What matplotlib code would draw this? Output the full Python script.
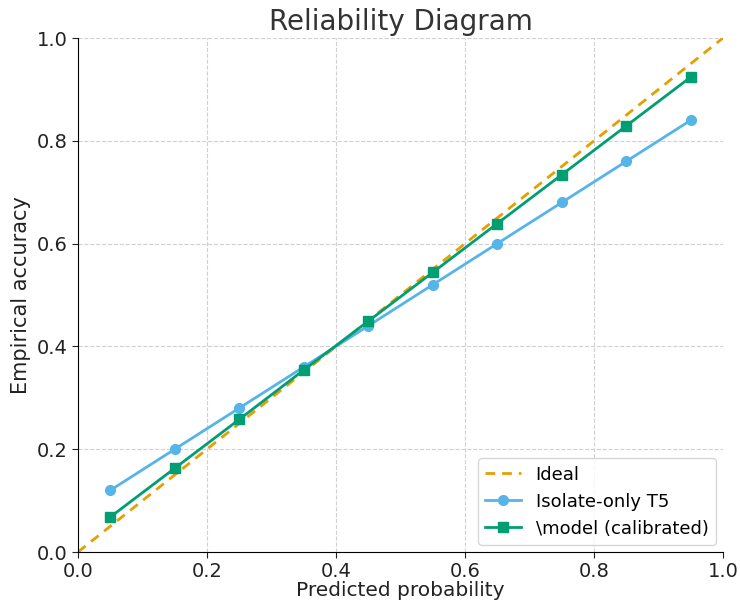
import matplotlib
matplotlib.use("Agg")
import matplotlib.pyplot as plt
import numpy as np

bins = [0.05, 0.15, 0.25, 0.35, 0.45, 0.55, 0.65, 0.75, 0.85, 0.95]
isolate_t5 = [0.12, 0.20, 0.28, 0.36, 0.44, 0.52, 0.60, 0.68, 0.76, 0.84]
model_cal = [0.068, 0.163, 0.258, 0.354, 0.449, 0.544, 0.639, 0.734, 0.829, 0.924]
ideal = [0.0, 1.0]

fig = plt.figure(figsize=(7.4, 6.05), dpi=100)
ax = fig.add_axes([78/740, 1-552/605, (723-78)/740, (552-38)/605])

ax.plot(ideal, ideal, linestyle=(0, (3.5, 2.5)), color="#E69F00", lw=2, label="Ideal")
ax.plot(bins, isolate_t5, marker="o", color="#56B4E9", lw=2, ms=7, label="Isolate-only T5")
ax.plot(bins, model_cal, marker="s", color="#009E73", lw=2, ms=7, label="\\model (calibrated)")

ax.set_xlim(0, 1)
ax.set_ylim(0, 1)
ax.set_xticks(np.arange(0, 1.01, 0.2))
ax.set_yticks(np.arange(0, 1.01, 0.2))
ax.grid(True, linestyle="--", color="#d0d0d0", lw=0.8)
for s in ["top", "right"]:
    ax.spines[s].set_visible(False)
ax.tick_params(labelsize=14, length=4, colors="#222222")
ax.set_title("Reliability Diagram", fontsize=20, color="#333333", pad=6)
ax.set_xlabel("Predicted probability", fontsize=14.5, color="#222222", labelpad=0)
ax.set_ylabel("Empirical accuracy", fontsize=15, color="#222222")
leg = ax.legend(loc="lower right", fontsize=13, frameon=True, fancybox=True,
                borderaxespad=0.4)
leg.get_frame().set_edgecolor("#cccccc")

fig.savefig("out.png", dpi=100)
